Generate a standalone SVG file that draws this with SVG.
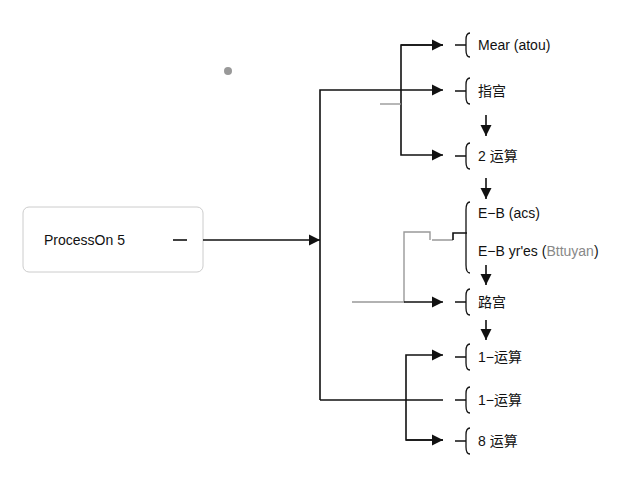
<svg xmlns="http://www.w3.org/2000/svg" width="640" height="480" viewBox="0 0 640 480">
<style>
text{font-family:"Liberation Sans","Noto Sans CJK SC",sans-serif;font-size:14px;fill:#111}
.c{stroke:#111;stroke-width:1.6;fill:none}
.g{stroke:#999;stroke-width:1.4;fill:none}
.b{stroke:#111;stroke-width:1.3;fill:none}
</style>
<defs><marker id="a" viewBox="0 0 10 10" refX="10" refY="5" markerWidth="7" markerHeight="7" orient="auto"><path d="M0,0L10,5L0,10z" fill="#111"/></marker></defs>
<rect width="640" height="480" fill="#fff"/>
<circle cx="228" cy="71" r="4" fill="#999"/>
<g id="n0"><rect x="23" y="207" width="180" height="65" rx="6" fill="#fff" stroke="#ccc"/><text x="44" y="245">ProcessOn 5</text><path class="c" d="M173 240H187"/></g>
<g id="connectors">
<path class="c" d="M203 240H320" marker-end="url(#a)"/>
<path class="c" d="M320 400V90H443" marker-end="url(#a)"/>
<path class="c" d="M320 400H443"/>
<path class="c" d="M443 45H401V155H443" marker-end="url(#a)"/>
<path class="c" d="M401 45H443" marker-end="url(#a)"/>
<path class="g" d="M380 104H401"/>
<path class="g" d="M430 240V232H404V302H352M432 240H453"/>
<path class="c" d="M453 240V233H467"/>
<path class="c" d="M404 302H443" marker-end="url(#a)"/>
<path class="c" d="M443 440H406V355H443" marker-end="url(#a)"/>
<path class="c" d="M406 440H443" marker-end="url(#a)"/>
<path class="c" d="M486 115V136" marker-end="url(#a)"/>
<path class="c" d="M486 178V199" marker-end="url(#a)"/>
<path class="c" d="M486 265V285" marker-end="url(#a)"/>
<path class="c" d="M486 320V340" marker-end="url(#a)"/>
</g>
<g id="n1"><path class="b" d="M455 45H466M470 33Q466 33 466 40V50Q466 57 470 57"/><text x="478" y="50">Mear (atou)</text></g>
<g id="n2"><path class="b" d="M455 91H466M470 78Q466 78 466 85V97Q466 104 470 104"/><text x="478" y="96">指宫</text></g>
<g id="n3"><path class="b" d="M455 156H466M470 143Q466 143 466 150V162Q466 169 470 169"/><text x="478" y="161">2 运算</text></g>
<g id="n4"><path class="b" d="M470 202Q466 202 466 210V265Q466 273 470 273"/><text x="478" y="218">E−B (acs)</text><text x="478" y="256">E−B yr'es (<tspan fill="#888">Bttuyan</tspan>)</text></g>
<g id="n5"><path class="b" d="M455 302H466M470 289Q466 289 466 296V308Q466 315 470 315"/><text x="478" y="307">路宫</text></g>
<g id="n6"><path class="b" d="M455 357H466M470 344Q466 344 466 351V363Q466 370 470 370"/><text x="478" y="362">1−运算</text></g>
<g id="n7"><path class="b" d="M455 400H466M470 387Q466 387 466 394V406Q466 413 470 413"/><text x="478" y="405">1−运算</text></g>
<g id="n8"><path class="b" d="M455 441H466M470 428Q466 428 466 435V447Q466 454 470 454"/><text x="478" y="446">8 运算</text></g>
</svg>
